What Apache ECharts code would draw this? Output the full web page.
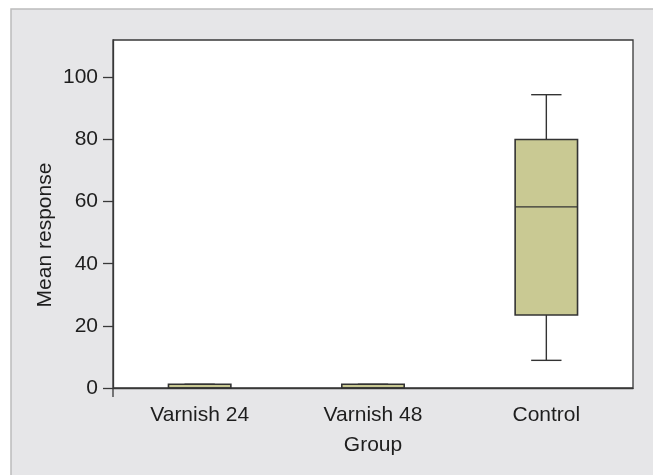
<!DOCTYPE html>
<html>
<head>
<meta charset="utf-8">
<script src="https://cdn.jsdelivr.net/npm/echarts@6/dist/echarts.min.js"></script>
<style>html,body{margin:0;padding:0;background:#fff;}#c{width:653px;height:475px;}</style>
</head>
<body>
<div id="c"></div>
<script>
var categories = ['Varnish 24', 'Varnish 48', 'Control'];
// [min, Q1, median, Q3, max]
var boxValues = [
  [0, 0, 0, 1.2, 1.2],
  [0, 0, 0, 1.2, 1.2],
  [8.9, 23.5, 58.3, 80.0, 94.4]
];
var yTicks = [0, 20, 40, 60, 80, 100];
var yMax = 112;

var chart = echarts.init(document.getElementById('c'));
var data = boxValues.map(function (v, i) { return [i].concat(v); });
var font = 'Liberation Sans, Arial, sans-serif';
var lineCol = '#383838';
var txtCol = '#1e1e1e';

chart.setOption({
  backgroundColor: '#ffffff',
  animation: false,
  graphic: [
    { type: 'rect', z: -10, shape: { x: 11, y: 9, width: 650, height: 470 },
      style: { fill: '#e6e6e8', stroke: '#bcbcbc', lineWidth: 1.5 } },
    { type: 'line', z: 10, shape: { x1: 113, y1: 388, x2: 113, y2: 397 },
      style: { stroke: lineCol, lineWidth: 1.3 } }
  ],
  grid: { left: 113, top: 40, width: 520, height: 348, show: true,
    backgroundColor: '#ffffff', borderColor: lineCol, borderWidth: 1.3 },
  xAxis: {
    type: 'category', data: categories, boundaryGap: true,
    name: 'Group', nameLocation: 'middle', nameGap: 47,
    nameTextStyle: { fontFamily: font, fontSize: 21, color: txtCol },
    axisLine: { lineStyle: { color: lineCol, width: 1.3 } },
    axisTick: { alignWithLabel: true, length: 9, lineStyle: { color: lineCol, width: 1.3 } },
    axisLabel: { fontFamily: font, fontSize: 21, color: txtCol, margin: 17 },
    splitLine: { show: false }
  },
  yAxis: {
    type: 'value', min: 0, max: yMax,
    name: 'Mean response', nameLocation: 'middle', nameGap: 57, nameRotate: 90,
    nameMoveOverlap: false,
    nameTextStyle: { fontFamily: font, fontSize: 21, color: txtCol, padding: [0, 42, 0, 0] },
    axisLine: { show: true, lineStyle: { color: lineCol, width: 1.3 } },
    axisTick: { show: true, length: 10, customValues: yTicks, lineStyle: { color: lineCol, width: 1.3 } },
    axisLabel: { fontFamily: font, fontSize: 21, color: txtCol, margin: 15, customValues: yTicks },
    splitLine: { show: false }
  },
  series: [{
    type: 'custom',
    data: data,
    encode: { x: 0, y: [1, 2, 3, 4, 5] },
    renderItem: function (params, api) {
      var i = api.value(0);
      var pMin = api.coord([i, api.value(1)]);
      var pQ1 = api.coord([i, api.value(2)]);
      var pMed = api.coord([i, api.value(3)]);
      var pQ3 = api.coord([i, api.value(4)]);
      var pMax = api.coord([i, api.value(5)]);
      var band = api.size([1, 0])[0];
      var hw = band * 0.36 / 2;
      var cw = band * 0.175 / 2;
      var x = pMed[0];
      var st = { stroke: '#333', lineWidth: 1.4, fill: null };
      return {
        type: 'group',
        children: [
          { type: 'line', shape: { x1: x, y1: pMax[1], x2: x, y2: pQ3[1] }, style: st },
          { type: 'line', shape: { x1: x, y1: pQ1[1], x2: x, y2: pMin[1] }, style: st },
          { type: 'line', shape: { x1: x - cw, y1: pMax[1], x2: x + cw, y2: pMax[1] }, style: st },
          { type: 'line', shape: { x1: x - cw, y1: pMin[1], x2: x + cw, y2: pMin[1] }, style: st },
          { type: 'rect', shape: { x: x - hw, y: pQ3[1], width: hw * 2, height: pQ1[1] - pQ3[1] },
            style: { fill: '#c9c993', stroke: '#333', lineWidth: 1.6 } },
          { type: 'line', shape: { x1: x - hw, y1: pMed[1], x2: x + hw, y2: pMed[1] }, style: st }
        ]
      };
    }
  }]
});
</script>
</body>
</html>
